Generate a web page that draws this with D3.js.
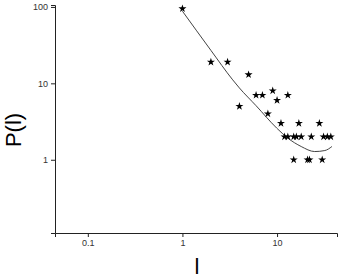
<!DOCTYPE html>
<html>
<head>
<meta charset="utf-8">
<script src="https://cdn.jsdelivr.net/npm/d3@7"></script>
<style>
  body { margin: 0; background: #fff; }
  svg { display: block; font-family: "Liberation Sans", Arial, sans-serif; }
</style>
</head>
<body>
<svg width="343" height="279"></svg>

<script>
  // measured points
  const lVals = [1, 2, 3, 4, 5, 6, 7, 8, 9, 10, 11, 12, 13, 13, 15, 15, 16, 17, 18, 21, 22, 23, 28, 30, 31, 34, 37];
  const pVals = [95, 19, 19, 5, 13, 7, 7, 4, 8, 6, 3, 2, 7, 2, 2, 1, 2, 3, 2, 1, 1, 2, 3, 1, 2, 2, 2];

  // fitted curve
  const lFit = [1, 2, 3.4, 4, 6, 9.9, 13, 18, 25, 32, 38];
  const pFit = [88, 27, 11.1, 8.7, 5.1, 2.6, 1.92, 1.49, 1.28, 1.32, 1.49];

  // ticks
  const xMajor = [0.1, 1, 10];
  const xMinor = [0.05, 0.06, 0.07, 0.08, 0.09, 0.2, 0.3, 0.4, 0.5, 0.6, 0.7, 0.8, 0.9,
                  2, 3, 4, 5, 6, 7, 8, 9, 20, 30, 40];
  const yMajor = [1, 10, 100];
  const yMinor = [0.2, 0.3, 0.4, 0.5, 0.6, 0.7, 0.8, 0.9, 2, 3, 4, 5, 6, 7, 8, 9,
                  20, 30, 40, 50, 60, 70, 80, 90];

  const svg = d3.select("svg");

  const x = d3.scaleLog().domain([0.045, 43]).range([55, 337]);
  const y = d3.scaleLog().domain([0.11, 106]).range([233, 5]);

  const fmt = d => d < 1 ? d3.format(".1f")(d) : d3.format("d")(d);

  // axes
  const gx = svg.append("g").attr("transform", "translate(0,233)");
  gx.call(d3.axisBottom(x).tickValues(xMinor).tickSize(2).tickFormat(""));
  gx.call(d3.axisBottom(x).tickValues(xMajor).tickSize(4).tickPadding(3).tickFormat(fmt));

  const gy = svg.append("g").attr("transform", "translate(55,0)");
  gy.call(d3.axisLeft(y).tickValues(yMinor).tickSize(2).tickFormat(""));
  gy.call(d3.axisLeft(y).tickValues(yMajor).tickSize(4).tickPadding(3).tickFormat(fmt));

  svg.selectAll(".domain").attr("stroke", "#222");
  svg.selectAll(".tick line").attr("stroke", "#222");
  svg.selectAll(".tick text").attr("fill", "#333").style("font-size", "9px")
    .style("font-family", "'Liberation Sans', Arial, sans-serif");

  // fit line
  const line = d3.line()
    .x(d => x(d[0]))
    .y(d => y(d[1]))
    .curve(d3.curveMonotoneX);

  svg.append("path")
    .datum(d3.zip(lFit, pFit))
    .attr("d", line)
    .attr("fill", "none")
    .attr("stroke", "#444")
    .attr("stroke-width", 1);

  // stars
  const star = d3.symbol().type(d3.symbolStar).size(20);
  svg.selectAll("path.pt")
    .data(d3.zip(lVals, pVals))
    .enter()
    .append("path")
    .attr("class", "pt")
    .attr("transform", d => `translate(${x(d[0])},${y(d[1])})`)
    .attr("d", star)
    .attr("fill", "#000");

  // axis titles
  svg.append("text")
    .attr("transform", "translate(21,130) rotate(-90)")
    .attr("text-anchor", "middle")
    .style("font-size", "22px")
    .attr("fill", "#000")
    .text("P(l)");

  svg.append("text")
    .attr("x", 197)
    .attr("y", 274)
    .attr("text-anchor", "middle")
    .style("font-size", "22px")
    .attr("fill", "#000")
    .text("l");
</script>
</body>
</html>
